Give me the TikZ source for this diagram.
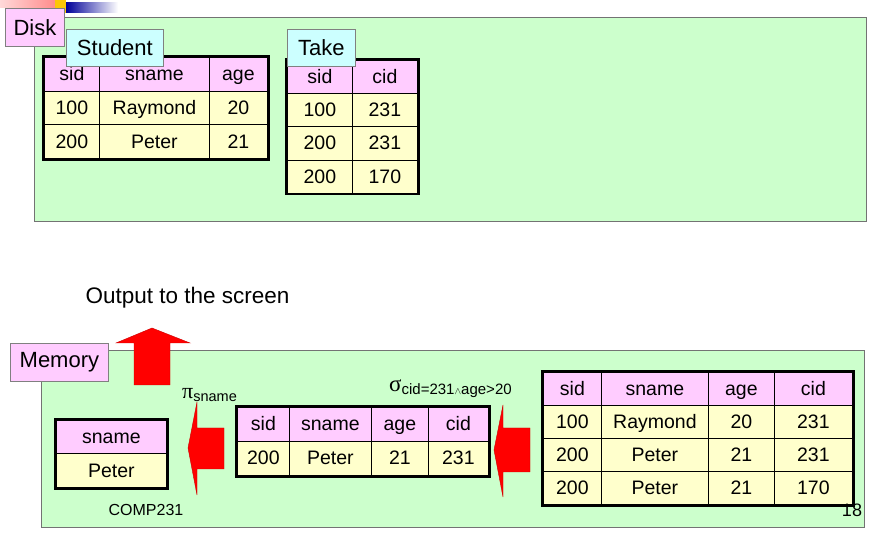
\documentclass[tikz,border=0pt]{standalone}
\usepackage{fontspec}
\setmainfont{Liberation Sans}
\newfontfamily\greekfont{Liberation Serif}
\usepackage{xcolor}
\usetikzlibrary{matrix, positioning}

\definecolor{panelgreen}{HTML}{CCFFCC}
\definecolor{hdrpink}{HTML}{FFCCFF}
\definecolor{lblcyan}{HTML}{CCFFFF}
\definecolor{rowyellow}{HTML}{FFFFCC}

\begin{document}
\begin{tikzpicture}[
  x=1pt, y=-1pt,
  every node/.style={font=\fontsize{19.5}{21}\selectfont},
  panel/.style={draw=black!55, fill=panelgreen, line width=0.8pt},
  lbl/.style={draw=black!50, line width=0.8pt, inner sep=0pt, anchor=north west, font=\fontsize{22}{24}\selectfont},
  tbl/.style={matrix of nodes, draw=black, line width=3.5pt, inner sep=0pt, outer sep=0pt,
    column sep=-0.8pt, row sep=-0.8pt, anchor=north west,
    nodes={draw=black, line width=0.8pt, fill=rowyellow, inner sep=0pt, outer sep=0pt,
      minimum height=33.5pt, text height=14pt, text depth=1pt, anchor=center},
    row 1/.style={nodes={fill=hdrpink}}},
  bigarrow/.style={fill=red, draw=red!80!black, line width=0.4pt},
]
\useasboundingbox (0,0) rectangle (871,534);

% slide decoration
\shade[left color=red!15, right color=red!45] (0,0) rectangle (55,8);
\fill[yellow!60!orange] (55,0) rectangle (66,13);
\shade[left color=blue!60!black, right color=white] (66,3) rectangle (118,13);

% Disk panel
\draw[panel] (34,17) rectangle (866,221);
\node[lbl, fill=hdrpink, minimum width=59pt, minimum height=38pt] (disklbl) at (5,8) {Disk};

\matrix (student) [tbl, column 1/.style={nodes={minimum width=55pt}},
  column 2/.style={nodes={minimum width=110pt}}, column 3/.style={nodes={minimum width=58pt}},
  nodes={minimum height=33.7pt}] at (44,57) {
  sid & sname & age \\
  100 & Raymond & 20 \\
  200 & Peter & 21 \\
};
\node[lbl, fill=lblcyan, minimum width=97pt, minimum height=37pt] (studentlbl) at (66,29) {Student};

\matrix (take) [tbl, column 1/.style={nodes={minimum width=65pt}},
  column 2/.style={nodes={minimum width=65pt}}, nodes={minimum height=33.2pt}] at (287,60) {
  sid & cid \\
  100 & 231 \\
  200 & 231 \\
  200 & 170 \\
};
\node[lbl, fill=lblcyan, minimum width=68pt, minimum height=37pt] (takelbl) at (287,29) {Take};

% Output
\node[anchor=west, font=\fontsize{22.5}{24}\selectfont] (output) at (82,298) {Output to the screen};

% Memory panel
\draw[panel] (41,350) rectangle (864,527);
\node[lbl, fill=hdrpink, minimum width=98pt, minimum height=38pt] (memlbl) at (10,343) {Memory};

\matrix (prod) [tbl, column 1/.style={nodes={minimum width=58pt}},
  column 2/.style={nodes={minimum width=107pt}}, column 3/.style={nodes={minimum width=66pt}},
  column 4/.style={nodes={minimum width=78pt}}, nodes={minimum height=33pt}] at (543,372) {
  sid & sname & age & cid \\
  100 & Raymond & 20 & 231 \\
  200 & Peter & 21 & 231 \\
  200 & Peter & 21 & 170 \\
};

\matrix (sel) [tbl, column 1/.style={nodes={minimum width=52pt}},
  column 2/.style={nodes={minimum width=82pt}}, column 3/.style={nodes={minimum width=57pt}},
  column 4/.style={nodes={minimum width=60pt}}, nodes={minimum height=34pt}] at (237,407) {
  sid & sname & age & cid \\
  200 & Peter & 21 & 231 \\
};

\matrix (proj) [tbl, column 1/.style={nodes={minimum width=110pt}},
  nodes={minimum height=33.5pt}] at (56,420) {
  sname \\
  Peter \\
};

% block arrows
\fill[bigarrow] (134,385) -- (134,343) -- (116,343) -- (152,328) -- (190,343) -- (170,343) -- (170,385) -- cycle;
\fill[bigarrow] (224,428) -- (197,428) -- (197,402) -- (188,448) -- (197,495) -- (197,469) -- (224,469) -- cycle;
\fill[bigarrow] (530,428) -- (503,428) -- (503,405) -- (494,450) -- (503,497) -- (503,472) -- (530,472) -- cycle;

% operator labels
\node[anchor=base west, inner sep=0pt] (pilbl) at (182,399)
  {{\greekfont\fontsize{22}{22}\selectfont π}\raisebox{-3pt}{\fontsize{14.5}{14.5}\selectfont sname}};
\node[anchor=base west, inner sep=0pt] (sigmalbl) at (389,392)
  {{\greekfont\fontsize{23}{23}\selectfont σ}\raisebox{-3pt}{\fontsize{15}{15}\selectfont cid=231{\fontsize{10}{10}\selectfont$\wedge$}age>20}};

% footer
\node[font=\fontsize{16}{18}\selectfont] (course) at (146,510) {COMP231};
\node[font=\fontsize{18}{18}\selectfont] (pageno) at (852,510) {18};

\end{tikzpicture}
\end{document}
